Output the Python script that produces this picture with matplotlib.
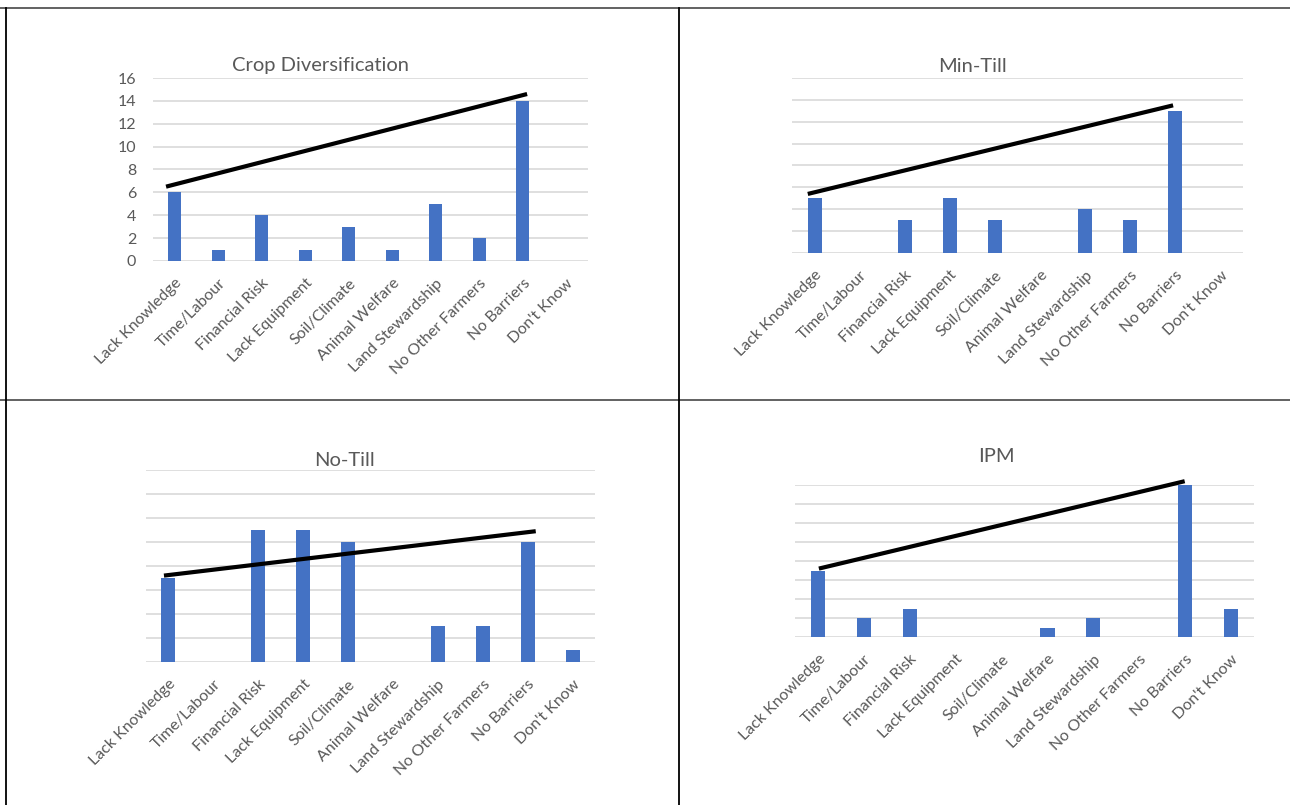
import matplotlib
matplotlib.use("Agg")
import matplotlib.pyplot as plt
from matplotlib.lines import Line2D

plt.rcParams['font.family'] = ['Lato', 'DejaVu Sans']

barriers = ["Lack Knowledge", "Time/Labour", "Financial Risk", "Lack Equipment",
            "Soil/Climate", "Animal Welfare", "Land Stewardship",
            "No Other Farmers", "No Barriers", "Don't Know"]

crop_div = [6, 1, 4, 1, 3, 1, 5, 2, 14, 0]
min_till = [5, 0, 3, 5, 3, 0, 4, 3, 13, 0]
no_till = [7, 0, 11, 11, 10, 0, 3, 3, 10, 1]
ipm = [7, 2, 3, 0, 0, 1, 2, 0, 16, 3]

# hand-drawn trend lines: (x start, x end), (y start, y end)
crop_div_line = ([-0.2, 8.1], [6.5, 14.6])
min_till_line = ([-0.15, 7.95], [5.4, 13.5])
no_till_line = ([-0.1, 8.18], [7.2, 10.9])
ipm_line = ([0.02, 7.99], [7.2, 16.4])

bar_color = "#4472C4"
grid_color = "#D9D9D9"
text_color = "#595959"

fig = plt.figure(figsize=(12.9, 8.05), dpi=100)
W, H = 1290, 805


def px_axes(x0, y0, x1, y1):
    # axes from pixel box (left, top, right, bottom)
    return fig.add_axes([x0 / W, 1 - y1 / H, (x1 - x0) / W, (y1 - y0) / H])


def draw_chart(ax, values, line, title, title_xy, show_y=False):
    x = range(len(barriers))
    ax.bar(x, values, width=0.31, color=bar_color, zorder=2)
    ax.set_xlim(-0.5, len(barriers) - 0.5)
    ax.set_ylim(0, 16)
    ax.set_yticks(range(0, 17, 2))
    ax.grid(axis="y", color=grid_color, linewidth=1.2, zorder=0)
    for s in ["top", "right", "left", "bottom"]:
        ax.spines[s].set_visible(False)
    ax.set_xticks(list(x))
    ax.set_xticklabels(barriers, rotation=45, ha="right", rotation_mode="anchor",
                       fontsize=11.5, color=text_color)
    ax.tick_params(axis="x", length=0, pad=11)
    ax.tick_params(axis="y", length=0, pad=12, labelsize=11.5, labelcolor=text_color)
    if not show_y:
        ax.set_yticklabels([])
    ax.plot(line[0], line[1], color="black", linewidth=3.0, clip_on=False,
            solid_capstyle="butt", zorder=3)
    fig.text(title_xy[0] / W, 1 - title_xy[1] / H, title, ha="center", va="center",
             fontsize=14.5, color=text_color)


ax1 = px_axes(153, 78, 588, 261)
draw_chart(ax1, crop_div, crop_div_line, "Crop Diversification", (320, 66), show_y=True)

ax2 = px_axes(792, 78, 1243, 253)
draw_chart(ax2, min_till, min_till_line, "Min-Till", (972, 66))

ax3 = px_axes(146, 470, 595, 662)
draw_chart(ax3, no_till, no_till_line, "No-Till", (344, 460))

ax4 = px_axes(795, 485, 1254, 637)
draw_chart(ax4, ipm, ipm_line, "IPM", (996, 456))

# table borders around the four charts
borders = [
    ([0, 1], [1 - 8 / H, 1 - 8 / H], "#555555"),
    ([0, 1], [1 - 400.5 / H, 1 - 400.5 / H], "#555555"),
    ([6 / W, 6 / W], [0, 1 - 8 / H], "black"),
    ([679 / W, 679 / W], [0, 1 - 8 / H], "black"),
]
for bx, by, c in borders:
    fig.add_artist(Line2D(bx, by, color=c, linewidth=1.3, transform=fig.transFigure))

fig.savefig("out.png", dpi=100, facecolor="white")
